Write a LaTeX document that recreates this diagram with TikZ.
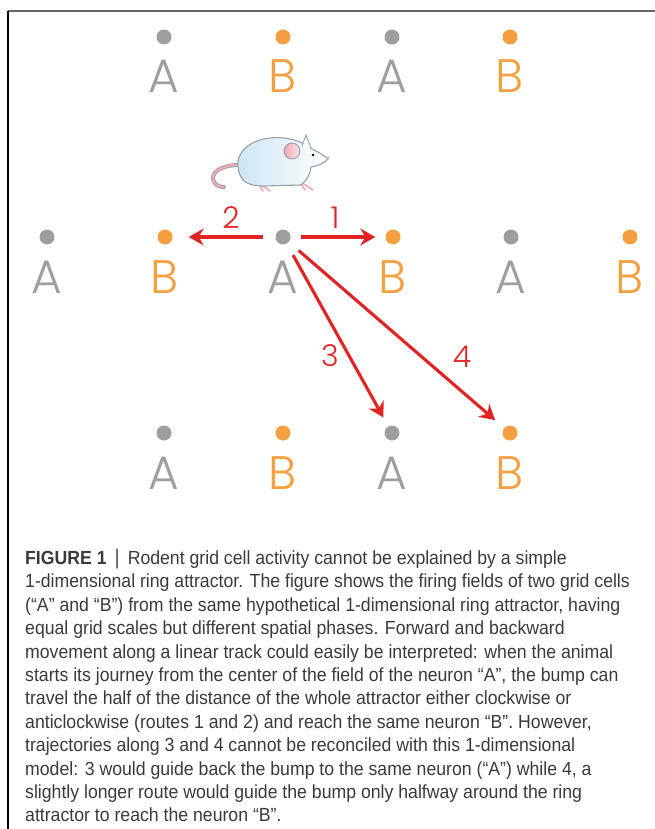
\documentclass[tikz,border=0pt]{standalone}
\usepackage{fontspec}
\setmainfont{Liberation Sans}[FakeStretch=0.93]
\newfontfamily\gridfont{Poppins Light}
\usetikzlibrary{arrows.meta}

\definecolor{cellgray}{RGB}{158,158,158}
\definecolor{cellorange}{RGB}{245,160,64}
\definecolor{routered}{RGB}{226,35,35}
\definecolor{mouseblue}{RGB}{200,228,244}
\definecolor{mousepink}{RGB}{240,168,176}
\definecolor{mouseline}{RGB}{150,160,168}
\definecolor{captiongray}{RGB}{58,58,58}

\begin{document}
\begin{tikzpicture}[x=1pt,y=-1pt]
    \tikzstyle{field}=[circle,minimum size=15pt,inner sep=0pt]
    \tikzstyle{field A}=[field,fill=cellgray]
    \tikzstyle{field B}=[field,fill=cellorange]
    \tikzstyle{letter}=[anchor=base,inner sep=0pt,font=\gridfont\fontsize{47}{47}\selectfont]
    \tikzstyle{letter A}=[letter,text=cellgray]
    \tikzstyle{letter B}=[letter,text=cellorange]
    \tikzstyle{route}=[draw=routered,line width=3.1pt,
        -{Stealth[length=15pt,width=17pt,inset=5pt]}]
    \tikzstyle{route label}=[text=routered,inner sep=0pt,
        font=\gridfont\fontsize{30}{30}\selectfont]

    \useasboundingbox (0,0) rectangle (655,829);
    % frame of the panel
    \draw[line width=1.5pt,black!60] (8,11) -- (655,11);
    \draw[line width=1.5pt,black] (8,11) -- (8,829);

    % Draw the top row of fields
    \foreach \name/\x/\c in {1/164/A,2/283/B,3/392/A,4/510/B} {
        \node[field \c] (T-\name) at (\x,37) {};
        \node[letter \c] (TL-\name) at (\x,93) {\c};
    }
    % Draw the middle row, where the animal starts
    \foreach \name/\x/\c in {1/47/A,2/165/B,3/283/A,4/393/B,5/511/A,6/630/B} {
        \node[field \c] (M-\name) at (\x,237) {};
        \node[letter \c] (ML-\name) at (\x,293) {\c};
    }
    % Draw the lower row of fields
    \foreach \name/\x/\c in {1/164/A,2/283/B,3/392/A,4/510/B} {
        \node[field \c] (L-\name) at (\x,433) {};
        \node[letter \c] (LL-\name) at (\x,489) {\c};
    }

    % Routes leaving the field of neuron A
    \draw[route,shorten <=10pt,shorten >=10pt] (M-3) -- (M-4);
    \draw[route,shorten <=12pt,shorten >=16pt] (M-3) -- (M-2);
    \draw[route,shorten <=13pt,shorten >=10pt] (M-3) -- (L-3);
    \draw[route,shorten <=13pt,shorten >=12pt] (M-3) -- (L-4);
    \node[route label] (R-1) at (335,218) {1};
    \node[route label] (R-2) at (231,218) {2};
    \node[route label] (R-3) at (330,356) {3};
    \node[route label] (R-4) at (462,357) {4};

    % the mouse
    \draw[mouseline,line width=4pt,line cap=round]
        (244,165) .. controls (226,164) and (212,170) .. (213,179)
        .. controls (214,185) and (219,187) .. (224,187);
    \draw[mousepink,line width=2.4pt,line cap=round]
        (244,165) .. controls (226,164) and (212,170) .. (213,179)
        .. controls (214,185) and (219,187) .. (224,187);
    \draw[mousepink,line width=1.6pt,line cap=round]
        (258,183) -- (263,191) (262,185) -- (270,191)
        (300,182) -- (305,190) (304,184) -- (313,190);
    \draw[mouseline,line width=1.1pt,left color=mouseblue,right color=white]
        (240,175) .. controls (230,150) and (256,135) .. (284,138)
        .. controls (299,140) and (306,145) .. (312,149)
        .. controls (318,152) and (324,155) .. (328,159)
        .. controls (323,164) and (317,166) .. (311,167)
        .. controls (310,175) and (307,180) .. (301,185)
        -- (262,186) .. controls (249,186) and (242,181) .. (240,175) -- cycle;
    \draw[mouseline,line width=0.9pt,fill=white]
        (302,146) -- (306,135) -- (311,148);
    \draw[mouseline,line width=0.9pt,left color=mousepink,right color=mousepink!30!white]
        (292,151) circle (8pt);
    \fill[black] (313,155) circle (1.3pt);
    \fill[mousepink] (328,158) circle (1.7pt);

    % caption
    \node[anchor=north west,align=left,inner sep=0pt,text=captiongray,
          font=\fontsize{19}{23.4}\selectfont] (caption) at (25,549)
    {\textbf{FIGURE 1}\hspace{8pt}{\color{black!70}\fontsize{21}{23.4}\selectfont|}\hspace{8pt}Rodent grid cell activity cannot be explained by a simple\\
    1-dimensional ring attractor. The figure shows the firing fields of two grid cells\\
    (“A” and “B”) from the same hypothetical 1-dimensional ring attractor, having\\
    equal grid scales but different spatial phases. Forward and backward\\
    movement along a linear track could easily be interpreted: when the animal\\
    starts its journey from the center of the field of the neuron “A”, the bump can\\
    travel the half of the distance of the whole attractor either clockwise or\\
    anticlockwise (routes 1 and 2) and reach the same neuron “B”. However,\\
    trajectories along 3 and 4 cannot be reconciled with this 1-dimensional\\
    model: 3 would guide back the bump to the same neuron (“A”) while 4, a\\
    slightly longer route would guide the bump only halfway around the ring\\
    attractor to reach the neuron “B”.};
\end{tikzpicture}
\end{document}
